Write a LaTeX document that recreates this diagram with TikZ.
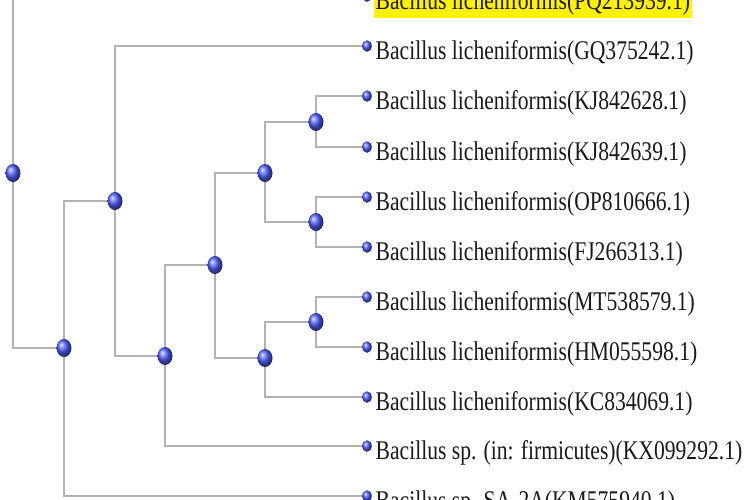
\documentclass[tikz,border=0pt]{standalone}
\usepackage{fontspec}
\setmainfont{Liberation Serif}
\usetikzlibrary{shapes.geometric,backgrounds}
\definecolor{dotblue}{RGB}{80,95,255}
\tikzset{
  inner/.style={ellipse,minimum width=15pt,minimum height=18pt,inner sep=0pt,shading=ball,ball color=dotblue},
  leaf/.style={ellipse,minimum width=9.5pt,minimum height=11.5pt,inner sep=0pt,shading=ball,ball color=dotblue},
  branch/.style={draw=gray!60,line width=2.6pt},
  lab/.style={anchor=base west,inner xsep=1.5pt,inner ysep=3pt,font=\fontsize{27}{30}\selectfont,text=black!90},
}
\newcommand{\sq}[1]{\scalebox{0.80}[1]{#1}}
\begin{document}
\begin{tikzpicture}[x=1pt,y=-1pt]
\useasboundingbox (0,0) rectangle (750,499);
% internal nodes
\node[inner] (r) at (13,173) {};
\node[inner] (a) at (64,348) {};
\node[inner] (b) at (115,201) {};
\node[inner] (c) at (165,356) {};
\node[inner] (d) at (215,265) {};
\node[inner] (e) at (265,173) {};
\node[inner] (i) at (265,358) {};
\node[inner] (g) at (316,122) {};
\node[inner] (h) at (316,222) {};
\node[inner] (f) at (316,322) {};
% leaves
\node[leaf] (l0) at (367,-4) {};
\node[leaf] (l1) at (367,46) {};
\node[leaf] (l2) at (367,96) {};
\node[leaf] (l3) at (367,147) {};
\node[leaf] (l4) at (367,197) {};
\node[leaf] (l5) at (367,247) {};
\node[leaf] (l6) at (367,297) {};
\node[leaf] (l7) at (367,347) {};
\node[leaf] (l8) at (367,397) {};
\node[leaf] (l9) at (367,446) {};
\node[leaf] (l10) at (367,496) {};
% labels
\node[lab,fill=yellow] (t0) at (374,9) {\sq{Bacillus licheniformis(PQ213939.1)}};
\node[lab] (t1) at (374,59) {\sq{Bacillus licheniformis(GQ375242.1)}};
\node[lab] (t2) at (374,109) {\sq{Bacillus licheniformis(KJ842628.1)}};
\node[lab] (t3) at (374,160) {\sq{Bacillus licheniformis(KJ842639.1)}};
\node[lab] (t4) at (374,210) {\sq{Bacillus licheniformis(OP810666.1)}};
\node[lab] (t5) at (374,260) {\sq{Bacillus licheniformis(FJ266313.1)}};
\node[lab] (t6) at (374,310) {\sq{Bacillus licheniformis(MT538579.1)}};
\node[lab] (t7) at (374,360) {\sq{Bacillus licheniformis(HM055598.1)}};
\node[lab] (t8) at (374,410) {\sq{Bacillus licheniformis(KC834069.1)}};
\node[lab] (t9) at (374,459) {\sq{Bacillus sp. (in: firmicutes)(KX099292.1)}};
\node[lab] (t10) at (374,509) {\sq{Bacillus sp. SA-2A(KM575940.1)}};
% branches
\begin{pgfonlayer}{background}
\foreach \p/\c in {r/l0,r/a,a/b,a/l10,b/l1,b/c,c/d,c/l9,d/e,d/i,e/g,e/h,g/l2,g/l3,h/l4,h/l5,i/f,i/l8,f/l6,f/l7}
  \draw[branch] (\p.center) |- (\c.center);
\end{pgfonlayer}
\end{tikzpicture}
\end{document}
